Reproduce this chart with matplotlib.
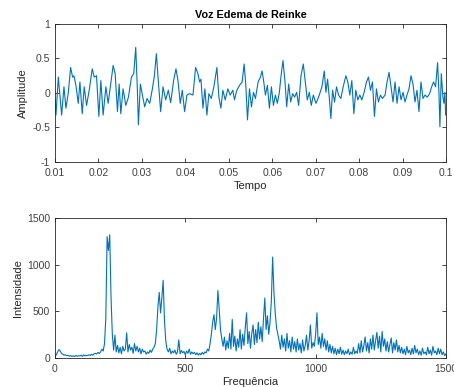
import numpy as np
import matplotlib
matplotlib.use("Agg")
import matplotlib.pyplot as plt

# waveform keypoints (time in ms, amplitude)
tempo_ms = [10.00, 10.23, 10.77, 11.53, 12.07, 12.52, 13.06, 13.60, 14.06, 14.36,
            14.82, 15.36, 15.74, 16.27, 16.73, 17.27, 17.88, 18.57, 19.03, 19.56,
            20.10, 20.56, 21.09, 21.71, 22.24, 22.78, 23.39, 23.85, 24.38, 24.77,
            25.15, 25.68, 26.30, 26.91, 27.60, 28.13, 28.59, 28.97, 29.20, 29.66,
            30.12, 30.66, 31.19, 31.81, 32.42, 32.88, 33.34, 33.80, 34.33, 34.87,
            35.48, 36.09, 36.63, 37.31, 37.85, 38.31, 38.84, 39.30, 39.84, 40.37,
            40.99, 41.76, 42.37, 42.91, 43.29, 43.60, 44.06, 44.51, 44.97, 45.43,
            45.97, 46.58, 47.27, 47.73, 48.19, 48.65, 49.18, 49.79, 50.33, 50.94,
            51.32, 51.86, 52.47, 53.08, 53.54, 53.93, 54.31, 54.77, 55.23, 55.69,
            56.14, 56.76, 57.29, 57.67, 58.06, 58.44, 58.90, 59.36, 59.82, 60.28,
            60.74, 61.19, 61.65, 62.04, 62.49, 62.95, 63.34, 63.80, 64.25, 64.71,
            65.17, 65.63, 66.09, 66.63, 67.16, 67.62, 68.08, 68.54, 69.00, 69.46,
            70.07, 70.68, 71.45, 71.98, 72.37, 72.75, 73.13, 73.51, 73.90, 74.35,
            74.81, 75.27, 75.81, 76.34, 76.96, 77.41, 77.87, 78.33, 78.79, 79.25,
            79.71, 80.17, 80.63, 81.16, 81.70, 82.16, 82.62, 83.08, 83.54, 84.00,
            84.45, 84.91, 85.37, 85.98, 86.44, 86.90, 87.36, 87.82, 88.28, 88.74,
            89.20, 89.66, 90.12, 90.58, 91.03, 91.49, 91.95, 92.41, 92.87, 93.33,
            93.79, 94.25, 94.71, 95.17, 95.70, 96.24, 96.70, 97.15, 97.61, 98.07,
            98.38, 98.61, 98.92, 99.30, 99.53, 99.76, 99.92]
amplitude = [-0.08, -0.32, 0.23, -0.32, 0.09, -0.22, 0.00, 0.37, 0.23, 0.25,
             0.11, -0.15, 0.16, -0.30, 0.09, -0.18, 0.04, 0.35, 0.23, 0.25,
             -0.34, 0.18, -0.32, 0.09, -0.15, 0.11, 0.40, 0.28, -0.27, 0.13,
             -0.30, 0.06, -0.18, -0.06, 0.23, 0.28, 0.66, 0.04, -0.46, 0.13,
             -0.03, -0.20, -0.08, -0.15, 0.06, 0.25, 0.57, 0.16, -0.27, 0.09,
             -0.10, 0.04, -0.14, 0.18, 0.35, 0.18, -0.15, 0.04, -0.27, -0.03,
             -0.01, -0.03, 0.37, 0.28, 0.16, 0.20, -0.22, 0.06, -0.32, -0.01,
             -0.08, 0.09, 0.37, -0.06, -0.22, 0.04, -0.10, 0.06, -0.03, 0.04,
             -0.10, 0.04, 0.11, 0.16, 0.42, 0.11, -0.39, 0.06, -0.20, 0.01,
             -0.08, 0.16, 0.23, 0.32, 0.16, -0.03, 0.11, -0.22, 0.09, -0.18,
             -0.03, -0.15, 0.01, 0.25, 0.47, 0.16, -0.20, 0.13, -0.13, -0.01,
             -0.06, 0.01, -0.18, 0.25, 0.42, 0.16, -0.10, 0.01, -0.18, -0.03,
             -0.15, -0.06, 0.09, 0.32, 0.01, 0.20, -0.06, -0.37, 0.04, -0.13,
             0.09, -0.03, -0.08, 0.09, 0.25, 0.16, -0.03, 0.18, -0.30, 0.04,
             -0.10, -0.03, -0.10, 0.01, 0.16, 0.23, 0.04, 0.16, -0.34, 0.06,
             -0.13, -0.03, -0.08, -0.03, 0.16, 0.30, 0.09, -0.13, 0.16, -0.15,
             0.09, -0.10, 0.01, -0.13, -0.03, 0.06, 0.25, 0.13, -0.13, 0.04,
             -0.27, 0.16, -0.08, -0.03, -0.06, -0.01, 0.09, 0.16, 0.09, 0.44,
             0.01, -0.49, 0.28, -0.06, -0.15, 0.01, -0.32]

# spectrum magnitude, one value every 5 Hz from 0 to 1500
intensidade = [
    5, 30, 60, 85,                                              # 0-15
    70, 45, 35, 25, 30, 20, 22,                                 # 20-50
    15, 20, 12, 18, 10, 22, 14, 20, 16, 25, 12, 28, 18, 24, 20, 30, 22, 35, 25, 40,  # 55-150
    45, 38, 55, 42, 60, 90, 70,                                 # 155-185
    150, 420, 1300, 1150, 1320, 650, 250,                       # 190-220
    80, 240, 60, 130, 50, 110, 40, 120, 70, 90, 265, 60, 140, 80, 110, 45,
    150, 70, 120, 60, 100, 40, 90, 60, 70, 35, 60, 45, 80, 55, 90, 110,  # 225-380
    150, 300, 550, 700, 480, 640, 830, 400, 180,                # 385-425
    90, 60, 100, 40, 70, 50, 80, 35, 60, 190, 40, 75, 50, 65, 30, 70, 45,
    90, 35, 60, 40, 55, 30, 50, 25, 45, 30, 55, 35, 60, 50, 90, 70,      # 430-590
    150, 250, 380, 460, 300, 420, 720, 520, 300, 200,           # 595-640
    120, 220, 80, 180, 100, 260, 90, 410, 120, 230, 70, 200, 110, 300, 90, 250,
    130, 320, 480, 150, 280, 100, 260, 350, 140, 300, 160, 380, 200, 330, 170, 420,  # 645-800
    640, 300, 450, 250, 380, 600, 1080, 700, 480, 320, 250,     # 805-855
    180, 90, 240, 110, 200, 70, 260, 100, 180, 60, 220, 90, 170, 60, 200,
    80, 150, 50, 190, 70, 130, 240, 80, 180, 350, 100, 160, 120, 250,    # 860-1000
    480, 140, 220, 100, 260, 120, 200, 80, 180, 60,             # 1005-1050
    140, 50, 120, 40, 100, 30, 90, 40, 110, 35, 80, 30, 70, 40, 90, 30,
    60, 35, 110, 40, 70, 45,                                    # 1055-1160
    150, 50, 180, 60, 130, 220, 70, 160, 50, 200, 90, 240, 80, 180, 270, 100,
    230, 60, 280, 120, 200, 70, 170, 60, 140, 210, 50, 160, 80, 190, 60, 130,
    50, 110,                                                    # 1165-1330
    40, 90, 30, 120, 50, 80, 30, 100, 40, 130, 50, 90, 30, 70, 25, 100,
    40, 60, 30, 110, 40, 80, 25, 120, 50, 70, 30, 100, 40, 90, 30, 60,
    20, 40,                                                     # 1335-1500
]
frequencia = np.arange(len(intensidade)) * 5

plt.rcParams['font.family'] = ['Liberation Sans', 'DejaVu Sans']
plt.rcParams['font.size'] = 7.5
cor = '#0072BD'
cinza = '#262626'
texto = '#404040'

fig = plt.figure(figsize=(4.54, 3.87), dpi=100)
ax1 = fig.add_axes([0.1211, 0.5814, 0.8612, 0.3566])
ax2 = fig.add_axes([0.1211, 0.0762, 0.8612, 0.3605])

t = np.array(tempo_ms) / 1000.0
ax1.plot(t, amplitude, color=cor, lw=0.8)
ax1.set_xlim(0.01, 0.1)
ax1.set_ylim(-1, 1)
ax1.set_xticks(np.arange(1, 11) / 100)
ax1.set_xticklabels(['0.01', '0.02', '0.03', '0.04', '0.05', '0.06', '0.07', '0.08', '0.09', '0.1'])
ax1.set_yticks([-1, -0.5, 0, 0.5, 1])
ax1.set_yticklabels(['-1', '-0.5', '0', '0.5', '1'])
ax1.set_title('Voz Edema de Reinke', fontsize=7.8, fontweight='bold', color='black', pad=4)
ax1.set_xlabel('Tempo', fontsize=8, labelpad=2, color=cinza)
ax1.set_ylabel('Amplitude', fontsize=8, labelpad=3, color=cinza)

ax2.plot(frequencia, intensidade, color=cor, lw=0.8)
ax2.set_xlim(0, 1500)
ax2.set_ylim(0, 1500)
ax2.set_xticks([0, 500, 1000, 1500])
ax2.set_yticks([0, 500, 1000, 1500])
ax2.set_xlabel('Frequência', fontsize=8, labelpad=2, color=cinza)
ax2.set_ylabel('Intensidade', fontsize=8, labelpad=3, color=cinza)

for ax in (ax1, ax2):
    for s in ax.spines.values():
        s.set_color(cinza)
        s.set_linewidth(0.6)
    ax.tick_params(direction='in', length=3, width=0.6, top=True, right=True,
                   colors=cinza, labelcolor=texto)
    ax.tick_params(axis='x', pad=4.5)
    ax.tick_params(axis='y', pad=3.5)

fig.savefig('out.png', dpi=100)
